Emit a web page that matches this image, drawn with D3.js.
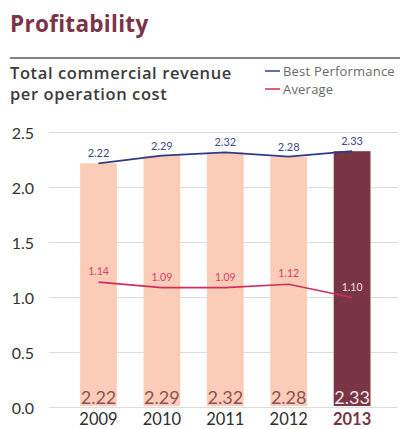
<!DOCTYPE html>
<html><head><meta charset="utf-8">
<script src="https://cdn.jsdelivr.net/npm/d3@7"></script>
<style>body{margin:0;background:#fff}svg{display:block}</style>
</head><body>
<script>
const years = ["2009","2010","2011","2012","2013"];
const bestValues = [2.22, 2.29, 2.32, 2.28, 2.33];
const bestLabels = ["2.22","2.29","2.32","2.28","2.33"];
const avgValues = [1.14, 1.09, 1.09, 1.12, 1.00];
const avgLabels = ["1.14","1.09","1.09","1.12","1.10"];
const yTicks = [0, 0.5, 1.0, 1.5, 2.0, 2.5];

const W = 402, H = 429;
const svg = d3.select("body").append("svg").attr("width", W).attr("height", H);
const font = "Lato, 'Open Sans', sans-serif";
const headFont = "'Open Sans', Lato, sans-serif";

svg.append("text").attr("x", 10).attr("y", 32).attr("font-family", headFont)
  .attr("font-weight", 700).attr("font-size", 22.5).attr("letter-spacing", 0.3)
  .attr("fill", "#7b3348").text("Profitability");
svg.append("line").attr("x1", 10).attr("x2", 400).attr("y1", 58).attr("y2", 58)
  .attr("stroke", "#8d7f83").attr("stroke-width", 2);

svg.append("text").attr("x", 10).attr("y", 79).attr("font-family", headFont).attr("font-weight", 600)
  .attr("font-size", 16.5).attr("letter-spacing", 0.6).attr("fill", "#3b3b3b").text("Total commercial revenue");
svg.append("text").attr("x", 10).attr("y", 100).attr("font-family", headFont).attr("font-weight", 600)
  .attr("font-size", 16.5).attr("letter-spacing", 0.6).attr("fill", "#3b3b3b").text("per operation cost");

const legend = [{t:"Best Performance", c:"#3a4a8c", y:71},{t:"Average", c:"#d23a62", y:89}];
legend.forEach(l => {
  svg.append("line").attr("x1", 265).attr("x2", 280).attr("y1", l.y).attr("y2", l.y)
    .attr("stroke", l.c).attr("stroke-width", 1.6);
  svg.append("text").attr("x", 283).attr("y", l.y + 4.5).attr("font-family", headFont)
    .attr("font-size", 13).attr("letter-spacing", 0.2).attr("fill", "#6a6a6a").text(l.t);
});

const y = d3.scaleLinear().domain([0, 2.5]).range([407.5, 132.5]);
const x = d3.scaleBand().domain(years).range([66.8, 383.8]).paddingInner(0.42).paddingOuter(0.21);

// grid
svg.append("g").selectAll("line").data(yTicks).join("line")
  .attr("x1", 49).attr("x2", 398).attr("y1", d => y(d)).attr("y2", d => y(d))
  .attr("stroke", "#dcdcdc").attr("stroke-width", 1.2);

const yAxis = d3.axisLeft(y).tickValues(yTicks).tickFormat(d3.format(".1f")).tickSize(0).tickPadding(0);
const ga = svg.append("g").attr("transform", "translate(34,0)").call(yAxis);
ga.select(".domain").remove();
ga.selectAll("text").attr("font-family", font).attr("font-size", 16).attr("fill", "#333").attr("dy", "0.35em");

// bars
svg.append("g").selectAll("rect").data(years).join("rect")
  .attr("x", d => x(d)).attr("width", x.bandwidth())
  .attr("y", (d, i) => y(bestValues[i])).attr("height", (d, i) => y(0) - 1.5 - y(bestValues[i]))
  .attr("fill", (d, i) => i === 4 ? "#7a3544" : "#fbcdb9");

// value labels in bars
svg.append("g").selectAll("text").data(years).join("text")
  .attr("x", d => x(d) + x.bandwidth() / 2).attr("y", 403.5).attr("text-anchor", "middle")
  .attr("font-family", font).attr("font-size", 18)
  .attr("fill", (d, i) => i === 4 ? "#f3e6e8" : "#8f5052").text((d, i) => bestLabels[i]);

// x axis labels
const xAxis = d3.axisBottom(x).tickSize(0).tickPadding(0);
const gx = svg.append("g").attr("transform", "translate(0,413)").call(xAxis);
gx.select(".domain").remove();
gx.selectAll("text").attr("font-family", font).attr("font-size", 16.5).attr("dy", "0.72em")
  .attr("fill", (d, i) => i === 4 ? "#7a3544" : "#2e2e2e")
  .attr("font-weight", (d, i) => i === 4 ? 700 : 400);

const cx = d => x(d) + x.bandwidth() / 2;

// best line
const lineB = d3.line().x((d, i) => cx(years[i])).y(d => y(d));
svg.append("path").datum(bestValues).attr("d", lineB).attr("fill", "none")
  .attr("stroke", "#2f3b86").attr("stroke-width", 1.8);
svg.append("g").selectAll("text").data(bestValues).join("text")
  .attr("x", (d, i) => cx(years[i])).attr("y", d => y(d) - 6).attr("text-anchor", "middle")
  .attr("font-family", font).attr("font-size", 11).attr("fill", "#3a4a8c").text((d, i) => bestLabels[i]);

// average line
const lineA = d3.line().x((d, i) => cx(years[i])).y(d => y(d));
svg.append("path").datum(avgValues).attr("d", lineA).attr("fill", "none")
  .attr("stroke", "#d02f5c").attr("stroke-width", 1.6);
svg.append("g").selectAll("text").data(avgValues).join("text")
  .attr("x", (d, i) => cx(years[i])).attr("y", d => y(d) - 7).attr("text-anchor", "middle")
  .attr("font-family", font).attr("font-size", 10.5)
  .attr("fill", (d, i) => i === 4 ? "#f2dde2" : "#d2406a").text((d, i) => avgLabels[i]);
</script>
</body></html>
